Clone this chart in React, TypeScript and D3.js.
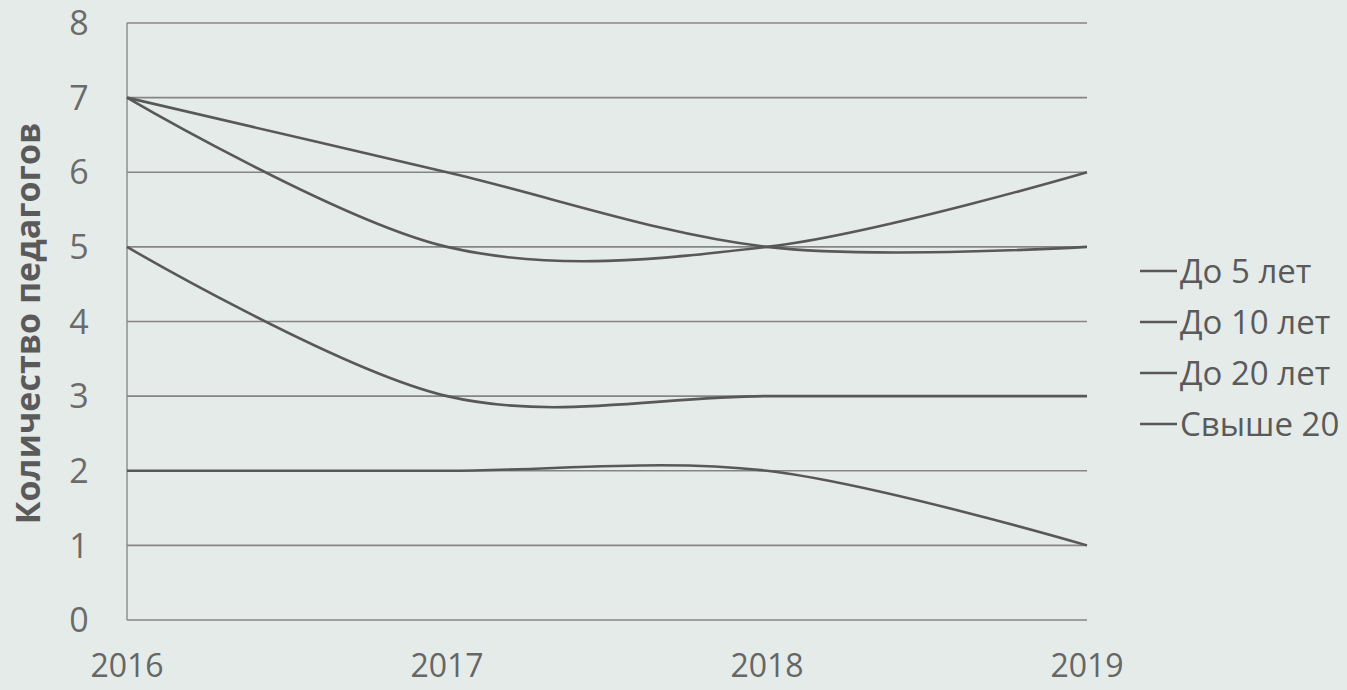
import { useMemo } from 'react';
import * as d3 from 'd3';

// Values
const years = ['2016', '2017', '2018', '2019'];
const yTicks = [0, 1, 2, 3, 4, 5, 6, 7, 8];
const seriesNames = ['До 5 лет', 'До 10 лет', 'До 20 лет', 'Свыше 20 лет'];
const upTo5 = [7, 6, 5, 5];
const upTo10 = [7, 5, 5, 6];
const upTo20 = [5, 3, 3, 3];
const over20 = [2, 2, 2, 1];
const seriesValues = [upTo5, upTo10, upTo20, over20];

const W = 1347;
const H = 690;
const FONT = '"Open Sans", "Noto Sans", sans-serif';

export default function App() {
  const x = d3.scalePoint<string>().domain(years).range([127, 1087]);
  const y = d3.scaleLinear().domain([0, 8]).range([620, 23]);

  // Excel-style smoothing ~ uniform Catmull-Rom
  const line = useMemo(
    () =>
      d3
        .line<number>()
        .x((_, i) => x(years[i]) as number)
        .y((d) => y(d))
        .curve(d3.curveCatmullRom.alpha(0)),
    []
  );

  return (
    <svg
      width={W}
      height={H}
      style={{ position: 'absolute', left: 0, top: 0, background: '#e5ebe9' }}
    >
      {/* gridlines */}
      {yTicks.map((t) => (
        <line
          key={t}
          x1={x('2016')}
          x2={x('2019')}
          y1={y(t)}
          y2={y(t)}
          stroke="#858585"
          strokeWidth={1.6}
        />
      ))}
      <line x1={x('2016')} x2={x('2016')} y1={y(8)} y2={y(0)} stroke="#8a8a8a" strokeWidth={1.4} />

      {/* y tick labels */}
      {yTicks.map((t) => (
        <text
          key={t}
          x={79}
          y={y(t)}
          dy="0.36em"
          textAnchor="middle"
          fontFamily={FONT}
          fontSize={34}
          fill="#6b6b6b"
        >
          {t}
        </text>
      ))}

      {/* x tick labels */}
      {years.map((yr) => (
        <text
          key={yr}
          x={x(yr)}
          y={665}
          dy="0.36em"
          textAnchor="middle"
          fontFamily={FONT}
          fontSize={32}
          fill="#666"
        >
          {yr}
        </text>
      ))}

      {/* y axis title */}
      <text
        transform={`translate(40, ${y(4) + 2}) rotate(-90)`}
        textAnchor="middle"
        fontFamily={FONT}
        fontSize={34}
        fontWeight="bold"
        fill="#5a5a5a"
      >
        Количество педагогов
      </text>

      {/* series */}
      {seriesValues.map((vals, i) => (
        <path
          key={seriesNames[i]}
          d={line(vals) ?? ''}
          fill="none"
          stroke="#585858"
          strokeWidth={2.6}
        />
      ))}

      {/* legend (cut at the right edge, as in the scan) */}
      {seriesNames.map((name, i) => {
        const cy = 271 + i * 51;
        return (
          <g key={name}>
            <line x1={1140} x2={1177} y1={cy} y2={cy} stroke="#585858" strokeWidth={2.6} />
            <text
              x={1180}
              y={cy}
              dy="0.36em"
              fontFamily={FONT}
              fontSize={33}
              fill="#5a5a5a"
            >
              {name}
            </text>
          </g>
        );
      })}
    </svg>
  );
}
